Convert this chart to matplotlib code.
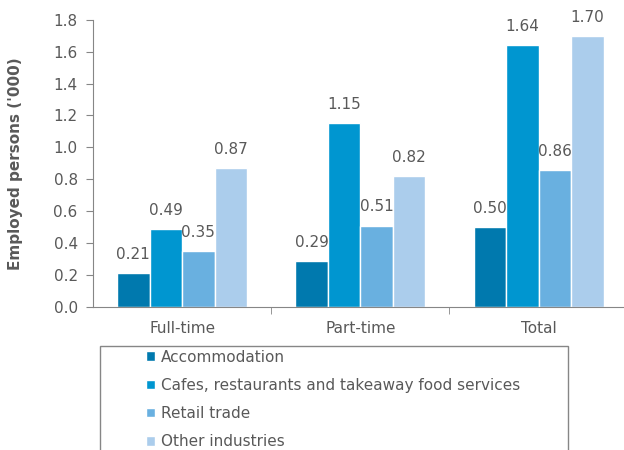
import numpy as np
import matplotlib.pyplot as plt
from matplotlib.patches import Rectangle

categories = ["Full-time", "Part-time", "Total"]
industries = ["Accommodation", "Cafes, restaurants and takeaway food services",
              "Retail trade", "Other industries"]
accommodation = [0.21, 0.29, 0.50]
cafes = [0.49, 1.15, 1.64]
retail = [0.35, 0.51, 0.86]
other = [0.87, 0.82, 1.70]
series = [accommodation, cafes, retail, other]
colors = ["#0079ae", "#0096d0", "#69b0e0", "#abcdec"]

GREY = "#595959"
AXIS = "#868686"

fig = plt.figure(figsize=(6.24, 4.5), dpi=100)
ax = fig.add_axes([0.149, 0.318, 0.857, 0.638])

x = np.arange(len(categories))
w = 0.1825
handles = []
for i, (vals, c) in enumerate(zip(series, colors)):
    bars = ax.bar(x + (i - 1.5) * w, vals, w, color=c, edgecolor="white", linewidth=1)
    ax.bar_label(bars, fmt="%.2f", padding=8, fontsize=11, color=GREY)
    handles.append(bars)

ax.set_xlim(-0.5, 2.5)
ax.set_ylim(0, 1.8)
ax.set_yticks(np.arange(0, 1.81, 0.2))
ax.set_yticklabels([f"{v:.1f}" for v in np.arange(0, 1.81, 0.2)])
ax.set_xticks(x)
ax.set_xticklabels(categories)
ax.set_xticks([0.5, 1.5], minor=True)
ax.tick_params(axis="x", which="major", length=0, pad=10, labelsize=11, labelcolor=GREY)
ax.tick_params(axis="x", which="minor", length=5, color=AXIS)
ax.tick_params(axis="y", length=5, color=AXIS, labelsize=11, labelcolor=GREY, pad=6)
for s in ["top", "right"]:
    ax.spines[s].set_visible(False)
for s in ["left", "bottom"]:
    ax.spines[s].set_color(AXIS)

ax.set_ylabel("Employed persons ('000)", fontsize=11, fontweight="bold", color=GREY, labelpad=22)

# legend box
fig.patches.append(Rectangle((100 / 624, -0.05), 468 / 624, 0.05 + 104 / 450,
                             transform=fig.transFigure, fill=False,
                             edgecolor=AXIS, linewidth=1))
fig.legend(handles, industries, loc="upper left", bbox_to_anchor=(138 / 624, 1 - 342 / 450),
           frameon=False, fontsize=11, labelcolor=GREY, handlelength=0.6, handleheight=0.6,
           handletextpad=0.4, labelspacing=0.86, borderpad=0)

fig.savefig("out.png", dpi=100)
